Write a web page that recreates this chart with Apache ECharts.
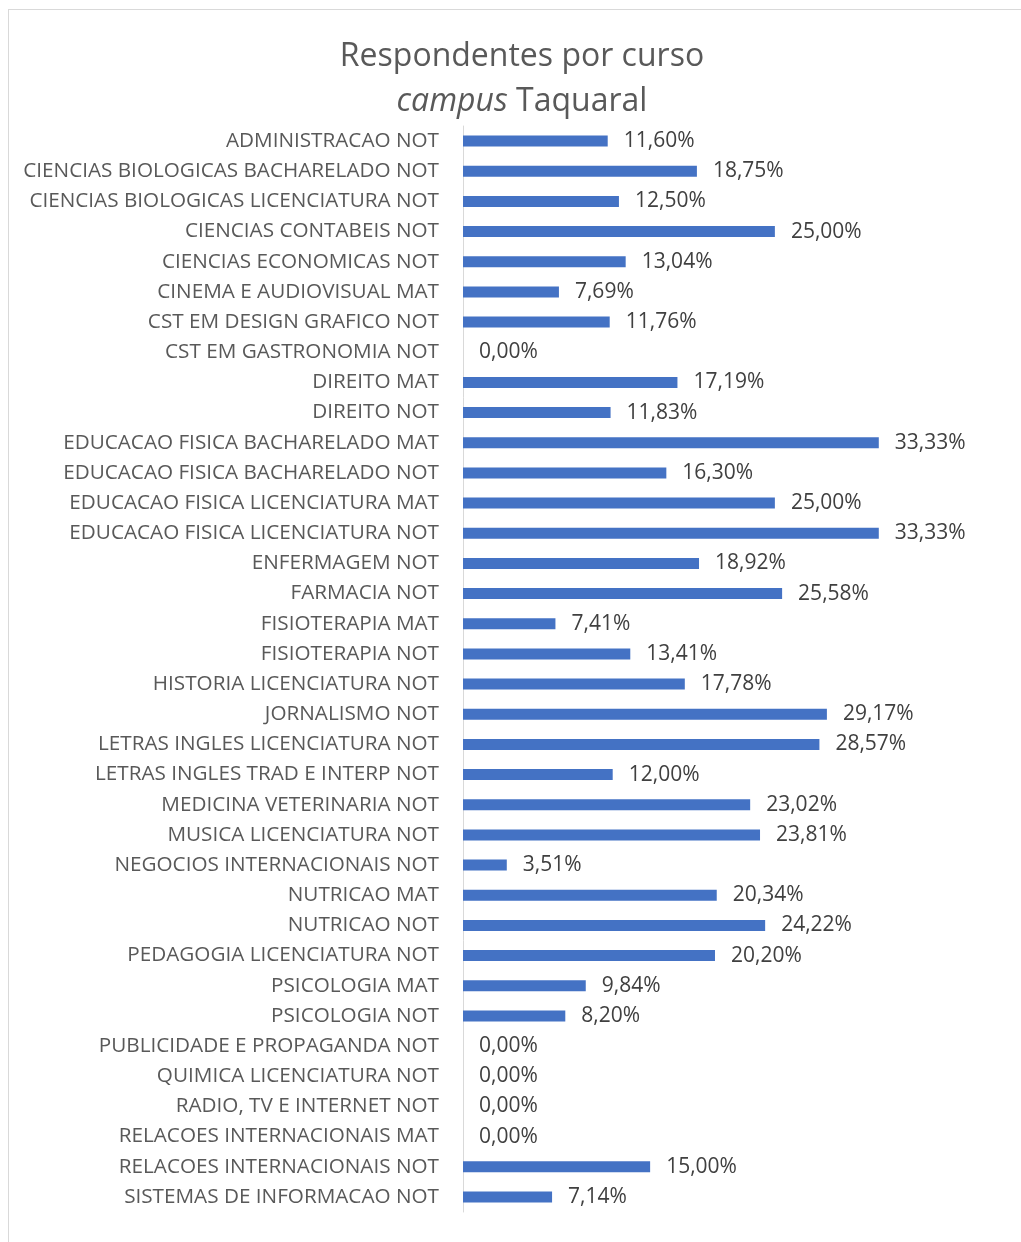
<!DOCTYPE html>
<html>
<head>
<meta charset="utf-8">
<script src="https://cdn.jsdelivr.net/npm/echarts@6/dist/echarts.min.js"></script>
<style>
  html, body { margin: 0; padding: 0; background: #fff; }
  #frame { position: absolute; left: 8px; top: 9px; width: 1030px; height: 1250px; border: 1px solid #d9d9d9; box-sizing: border-box; }
  #chart { position: absolute; left: 0; top: 0; width: 1021px; height: 1242px; }
</style>
</head>
<body>
<div id="frame"></div>
<div id="chart"></div>
<script>
// cursos (de cima para baixo)
const cursos = [
  'ADMINISTRACAO NOT',
  'CIENCIAS BIOLOGICAS BACHARELADO NOT',
  'CIENCIAS BIOLOGICAS LICENCIATURA NOT',
  'CIENCIAS CONTABEIS NOT',
  'CIENCIAS ECONOMICAS NOT',
  'CINEMA E AUDIOVISUAL MAT',
  'CST EM DESIGN GRAFICO NOT',
  'CST EM GASTRONOMIA NOT',
  'DIREITO MAT',
  'DIREITO NOT',
  'EDUCACAO FISICA BACHARELADO MAT',
  'EDUCACAO FISICA BACHARELADO NOT',
  'EDUCACAO FISICA LICENCIATURA MAT',
  'EDUCACAO FISICA LICENCIATURA NOT',
  'ENFERMAGEM NOT',
  'FARMACIA NOT',
  'FISIOTERAPIA MAT',
  'FISIOTERAPIA NOT',
  'HISTORIA LICENCIATURA NOT',
  'JORNALISMO NOT',
  'LETRAS INGLES LICENCIATURA NOT',
  'LETRAS INGLES TRAD E INTERP NOT',
  'MEDICINA VETERINARIA NOT',
  'MUSICA LICENCIATURA NOT',
  'NEGOCIOS INTERNACIONAIS NOT',
  'NUTRICAO MAT',
  'NUTRICAO NOT',
  'PEDAGOGIA LICENCIATURA NOT',
  'PSICOLOGIA MAT',
  'PSICOLOGIA NOT',
  'PUBLICIDADE E PROPAGANDA NOT',
  'QUIMICA LICENCIATURA NOT',
  'RADIO, TV E INTERNET NOT',
  'RELACOES INTERNACIONAIS MAT',
  'RELACOES INTERNACIONAIS NOT',
  'SISTEMAS DE INFORMACAO NOT'
]

// percentual de respondentes
const respondentes = [
  11.60, 18.75, 12.50, 25.00, 13.04, 7.69, 11.76, 0.00, 17.19, 11.83,
  33.33, 16.30, 25.00, 33.33, 18.92, 25.58, 7.41, 13.41, 17.78, 29.17,
  28.57, 12.00, 23.02, 23.81, 3.51, 20.34, 24.22, 20.20, 9.84, 8.20,
  0.00, 0.00, 0.00, 0.00, 15.00, 7.14
]

const fonte = '"Open Sans", sans-serif'

const chart = echarts.init(document.getElementById('chart'), null, { renderer: 'canvas' })

chart.setOption({
  animation: false,
  title: {
    text: 'Respondentes por curso\n{i|campus} Taquaral',
    left: 517,
    top: 29,
    textAlign: 'center',
    textStyle: {
      fontFamily: fonte,
      fontSize: 32,
      fontWeight: 'normal',
      color: '#595959',
      lineHeight: 45,
      rich: {
        i: { fontFamily: fonte, fontSize: 32, fontStyle: 'italic', color: '#595959', lineHeight: 45 }
      }
    }
  },
  grid: {
    left: 463,
    top: 126,
    bottom: 30,
    right: 59,
    containLabel: false
  },
  xAxis: {
    type: 'value',
    min: 0,
    max: 40,
    show: false
  },
  yAxis: {
    type: 'category',
    data: cursos,
    inverse: true,
    axisLine: { lineStyle: { color: '#d9d9d9', width: 1 } },
    axisTick: { show: false },
    axisLabel: {
      margin: 24,
      fontFamily: fonte,
      fontSize: 20.7,
      color: '#595959'
    }
  },
  series: [{
    type: 'bar',
    data: respondentes,
    barWidth: 11,
    itemStyle: { color: '#4472c4' },
    label: {
      show: true,
      position: 'right',
      distance: 16,
      fontFamily: fonte,
      fontSize: 21,
      color: '#404040',
      formatter: p => p.value.toFixed(2).replace('.', ',') + '%'
    }
  }]
})
</script>
</body>
</html>
